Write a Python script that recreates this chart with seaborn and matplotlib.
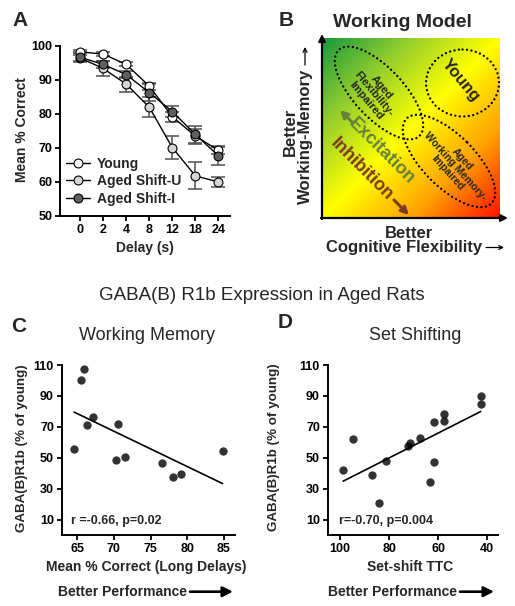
import numpy as np
import pandas as pd
import matplotlib
matplotlib.use('Agg')
import matplotlib.pyplot as plt
import seaborn as sns
from matplotlib.lines import Line2D
from matplotlib.patches import Ellipse
from matplotlib.colors import LinearSegmentedColormap

sns.set_theme(style='ticks')
plt.rcParams['font.family'] = ['Liberation Sans', 'DejaVu Sans']
plt.rcParams['font.weight'] = 'bold'

W, H = 515, 606

# ---------------- Panel A data ----------------
delay_labels = ['0', '2', '4', '8', '12', '18', '24']
young = [98.3, 97.6, 94.6, 88.2, 79.2, 73.5, 69.3]
young_err = [0.5, 0.5, 0.6, 1.0, 1.5, 2.2, 1.2]
shift_u = [96.5, 93.4, 88.8, 82.0, 70.1, 61.8, 60.0]
shift_u_err = [1.0, 2.2, 2.2, 3.0, 3.3, 4.0, 1.5]
shift_i = [96.7, 94.6, 91.6, 86.3, 80.7, 74.0, 67.7]
shift_i_err = [1.5, 1.0, 1.0, 2.5, 1.7, 2.5, 2.7]
group_names = ['Young', 'Aged Shift-U', 'Aged Shift-I']
group_faces = ['white', '#d4d4d4', '#5f5f5f']

# ---------------- Panel C data ----------------
wm_x = [64.6, 65.5, 65.9, 66.4, 67.2, 70.3, 70.5, 71.5, 76.6, 78.0, 79.1, 84.8]
wm_y = [55.9, 100.3, 107.4, 71.0, 76.2, 48.7, 71.9, 50.5, 46.6, 37.3, 39.2, 54.2]

# ---------------- Panel D data ----------------
ss_x = [98.8, 94.9, 87.0, 84.0, 81.3, 72.3, 71.3, 67.4, 63.4, 61.6, 61.5, 57.7, 57.7, 42.6, 42.6]
ss_y = [41.8, 62.0, 39.0, 21.0, 48.1, 57.8, 59.8, 63.0, 34.0, 72.8, 47.2, 78.6, 73.6, 90.1, 84.7]

fig = plt.figure(figsize=(W / 100, H / 100), dpi=100)
fig.patch.set_facecolor('white')


def add_ax(l, t, r, b):
    return fig.add_axes([l / W, 1 - b / H, (r - l) / W, (b - t) / H])


def style_axis(ax, fs=9):
    sns.despine(ax=ax)
    for s in ['left', 'bottom']:
        ax.spines[s].set_linewidth(1.4)
        ax.spines[s].set_color('black')
    ax.tick_params(axis='both', direction='out', length=3.6, width=1.3,
                   labelsize=fs, pad=2, colors='black')
    for lab in ax.get_xticklabels() + ax.get_yticklabels():
        lab.set_fontweight('bold')
    ax.set_facecolor('none')
    ax.set_xlabel('')
    ax.set_ylabel('')


# ---------------- Panel A ----------------
axA = add_ax(60, 46, 230, 216)
pos = np.arange(len(delay_labels))
series = [young, shift_u, shift_i]
errs = [young_err, shift_u_err, shift_i_err]
for i, (vals, err, fc) in enumerate(zip(series, errs, group_faces)):
    df = pd.DataFrame({'pos': pos, 'value': vals})
    axA.errorbar(pos, vals, yerr=err, fmt='none', ecolor='#505050',
                 elinewidth=1.1, capsize=5, capthick=1.1, zorder=2 + i * 0.1,
                 clip_on=False)
    sns.lineplot(data=df, x='pos', y='value', ax=axA, color='black', lw=1.0,
                 marker='o', markersize=6.4, markerfacecolor=fc,
                 markeredgecolor='black', markeredgewidth=0.8,
                 errorbar=None, zorder=3 + i, clip_on=False)
axA.set_xlim(-0.87, 6.5)
axA.set_ylim(50, 100)
axA.set_xticks(pos)
axA.set_xticklabels(delay_labels)
axA.set_yticks([50, 60, 70, 80, 90, 100])
style_axis(axA)
handles = [Line2D([0], [0], color='black', lw=1.0, marker='o', markersize=6.4,
                  markerfacecolor=fc, markeredgecolor='black', markeredgewidth=0.8)
           for fc in group_faces]
axA.legend(handles, group_names, loc='lower left', bbox_to_anchor=(0.035, 0.06),
           frameon=False, handlelength=1.7, handletextpad=0.5, labelspacing=0.25,
           borderaxespad=0, borderpad=0, prop=dict(weight='bold', size=10))

# ---------------- Panel C ----------------
axC = add_ax(61.7, 365, 235, 535)
sns.regplot(x=wm_x, y=wm_y, ax=axC, ci=None, color='black',
            scatter_kws=dict(s=36, linewidths=0, clip_on=False),
            line_kws=dict(lw=1.2))
axC.set_xlim(62.9, 86.5)
axC.set_ylim(0, 110)
axC.set_xticks([65, 70, 75, 80, 85])
axC.set_yticks([10, 30, 50, 70, 90, 110])
style_axis(axC)
axC.text(64.1, 9.0, 'r =-0.66, p=0.02', fontsize=9, fontweight='bold',
         ha='left', va='center')

# ---------------- Panel D ----------------
axD = add_ax(327.7, 365, 498.3, 535)
sns.regplot(x=ss_x, y=ss_y, ax=axD, ci=None, color='black',
            scatter_kws=dict(s=36, linewidths=0, clip_on=False),
            line_kws=dict(lw=1.2))
axD.set_xlim(105.1, 35.4)
axD.set_ylim(0, 110)
axD.set_xticks([100, 80, 60, 40])
axD.set_yticks([10, 30, 50, 70, 90, 110])
style_axis(axD)
axD.text(100.4, 9.3, 'r=-0.70, p=0.004', fontsize=9, fontweight='bold',
         ha='left', va='center')

# ---------------- Overlay (pixel coordinates) ----------------
ov = fig.add_axes([0, 0, 1, 1])
ov.set_xlim(0, W)
ov.set_ylim(H, 0)
ov.axis('off')
ov.patch.set_alpha(0)

# Panel letters
for letter, x, y in [('A', 12.5, 21), ('B', 279, 20), ('C', 11.5, 327), ('D', 278, 322)]:
    ov.text(x, y, letter, fontsize=15, fontweight='bold', ha='left', va='center')

# Axis labels
ov.text(21.7, 130, 'Mean % Correct', rotation=90, fontsize=10, fontweight='bold',
        ha='center', va='center')
ov.text(145, 248, 'Delay (s)', fontsize=10, fontweight='bold', ha='center', va='center')
ov.text(262, 295, 'GABA(B) R1b Expression in Aged Rats', fontsize=13.5,
        fontweight='normal', ha='center', va='center')
ov.text(147, 336, 'Working Memory', fontsize=13, fontweight='normal', ha='center', va='center')
ov.text(415, 335, 'Set Shifting', fontsize=13, fontweight='normal', ha='center', va='center')
ov.text(21.7, 448, 'GABA(B)R1b (% of young)', rotation=90, fontsize=9.6,
        fontweight='bold', ha='center', va='center')
ov.text(274, 447, 'GABA(B)R1b (% of young)', rotation=90, fontsize=9.6,
        fontweight='bold', ha='center', va='center')
ov.text(146.7, 566.7, 'Mean % Correct (Long Delays)', fontsize=10, fontweight='bold',
        ha='center', va='center')
ov.text(410, 566.7, 'Set-shift TTC', fontsize=10, fontweight='bold', ha='center', va='center')

for tx, a0, a1 in [(58, 190, 233), (328, 460, 494)]:
    ov.text(tx, 591.7, 'Better Performance', fontsize=10, fontweight='bold',
            ha='left', va='center')
    ov.annotate('', xy=(a1, 591.7), xytext=(a0, 591.7),
                arrowprops=dict(arrowstyle='-|>', lw=1.9, color='black',
                                mutation_scale=15, shrinkA=0, shrinkB=0))

# ---------------- Panel B (diagram) ----------------
cmap = LinearSegmentedColormap.from_list(
    'wm', [(0.0, '#18993f'), (0.25, '#96cf2c'), (0.5, '#ffff00'),
           (0.75, '#ffa200'), (1.0, '#ff1200')])
u = np.linspace(0, 1, 300)
U, V = np.meshgrid(u, u)
ov.imshow((U + V) / 2, cmap=cmap, extent=(322, 500, 218, 38), origin='upper',
          aspect='auto', interpolation='bilinear', zorder=1)
ov.annotate('', xy=(322, 34), xytext=(322, 219),
            arrowprops=dict(arrowstyle='-|>', lw=1.6, color='black',
                            mutation_scale=10, shrinkA=0, shrinkB=0), zorder=5)
ov.annotate('', xy=(508, 218), xytext=(321, 218),
            arrowprops=dict(arrowstyle='-|>', lw=1.6, color='black',
                            mutation_scale=10, shrinkA=0, shrinkB=0), zorder=5)

dot_style = dict(fill=False, ec='black', lw=1.7, ls=(0, (0.01, 1.9)),
                 capstyle='round', zorder=3)
ov.add_patch(Ellipse((379, 93), 118, 50, angle=47, **dot_style))
ov.add_patch(Ellipse((449, 161), 120, 52, angle=45, **dot_style))
ov.add_patch(Ellipse((462.5, 83), 73, 67, angle=0, **dot_style))

ov.text(461, 80, 'Young', rotation=-50, fontsize=12, fontweight='bold',
        ha='center', va='center', zorder=4)
ov.text(374, 94, 'Aged\nFlexibility-\nImpaired', rotation=-50, fontsize=8,
        fontweight='bold', ha='center', va='center', linespacing=1.0,
        multialignment='center', zorder=4)
ov.text(455, 166, 'Aged\nWorking Memory-\nImpaired', rotation=-48, fontsize=7.5,
        fontweight='bold', ha='center', va='center', linespacing=1.0,
        multialignment='center', zorder=4)

exc_col = '#66803a'
inh_col = '#7b3a23'
ov.text(381, 151, 'Excitation', rotation=-45, fontsize=13, fontweight='bold',
        color=exc_col, ha='center', va='center', zorder=4)
ov.annotate('', xy=(340, 110), xytext=(353, 123),
            arrowprops=dict(arrowstyle='->', lw=2.2, color=exc_col,
                            mutation_scale=11, shrinkA=0, shrinkB=0), zorder=4)
ov.text(362, 169, 'Inhibition', rotation=-45, fontsize=13, fontweight='bold',
        color=inh_col, ha='center', va='center', zorder=4)
ov.annotate('', xy=(409, 215), xytext=(394, 200),
            arrowprops=dict(arrowstyle='->', lw=2.2, color=inh_col,
                            mutation_scale=11, shrinkA=0, shrinkB=0), zorder=4)

ov.text(402.5, 22.5, 'Working Model', fontsize=14, fontweight='bold',
        ha='center', va='center')
ov.text(290, 132, 'Better', rotation=90, fontsize=12, fontweight='bold',
        ha='center', va='center')
ov.text(305, 136, 'Working-Memory', rotation=90, fontsize=12, fontweight='bold',
        ha='center', va='center')
ov.annotate('', xy=(305, 47), xytext=(305, 65),
            arrowprops=dict(arrowstyle='->', lw=0.9, color='black',
                            mutation_scale=7, shrinkA=0, shrinkB=0))
ov.text(409, 233, 'Better', fontsize=12, fontweight='bold', ha='center', va='center')
ov.text(404, 247.5, 'Cognitive Flexibility', fontsize=12, fontweight='bold',
        ha='center', va='center')
ov.annotate('', xy=(504, 247.5), xytext=(486, 247.5),
            arrowprops=dict(arrowstyle='->', lw=0.9, color='black',
                            mutation_scale=7, shrinkA=0, shrinkB=0))

fig.savefig('out.png', dpi=100, facecolor='white')
